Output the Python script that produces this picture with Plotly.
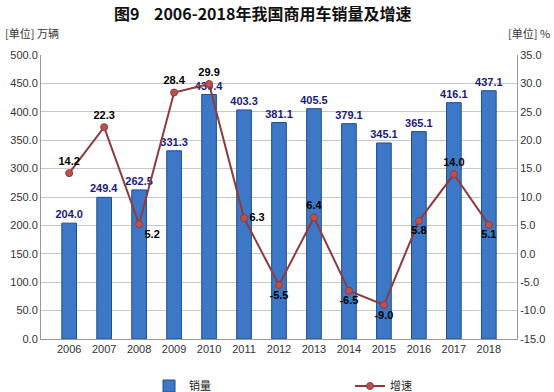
import plotly.graph_objects as go

years = ["2006","2007","2008","2009","2010","2011","2012","2013","2014","2015","2016","2017","2018"]
sales = [204.0, 249.4, 262.5, 331.3, 430.4, 403.3, 381.1, 405.5, 379.1, 345.1, 365.1, 416.1, 437.1]
growth = [14.2, 22.3, 5.2, 28.4, 29.9, 6.3, -5.5, 6.4, -6.5, -9.0, 5.8, 14.0, 5.1]
growth_pos = ["top center","top center","bottom right","top center","top center","middle right",
              "bottom center","top center","bottom center","bottom center","bottom center","top center","bottom center"]
left_ticks = [0, 50, 100, 150, 200, 250, 300, 350, 400, 450, 500]
right_ticks = [-15, -10, -5, 0, 5, 10, 15, 20, 25, 30, 35]

TF = "Liberation Sans, Arial, DejaVu Sans"
PW = 476
PH = 284

fig = go.Figure()
fig.add_trace(go.Bar(
    x=years, y=sales, name="销量", legend="legend",
    marker=dict(color="#3C78C6", line=dict(color="#1F4E8C", width=1)),
    width=0.42,
    text=[f"{v:.1f}" for v in sales], textposition="outside", constraintext="none",
    textfont=dict(color="#1B1B7A", size=11, family=TF, weight="bold"),
    cliponaxis=False,
))
fig.add_trace(go.Scatter(
    x=years, y=growth, name="增速", yaxis="y2", legend="legend2", mode="lines+markers+text",
    line=dict(color="#8E3B3F", width=2),
    marker=dict(color="#C0504D", size=7, line=dict(color="#8E3B3F", width=1)),
    text=[f"{v:.1f}" for v in growth], textposition=growth_pos,
    textfont=dict(color="#000000", size=11, family=TF, weight="bold"),
    cliponaxis=False,
))

leg_common = dict(orientation="h", xanchor="left", y=-47 / PH, yanchor="middle",
                  font=dict(size=11, color="#222222"), bgcolor="rgba(0,0,0,0)")
fig.update_layout(
    width=554, height=392,
    margin=dict(l=41, r=37, t=55, b=53, autoexpand=False),
    paper_bgcolor="white", plot_bgcolor="white",
    font=dict(family="Noto Sans CJK SC, DejaVu Sans", size=11, color="#333333"),
    showlegend=True,
    legend=dict(x=(149 - 41) / PW, **leg_common),
    legend2=dict(x=(350 - 41) / PW, **leg_common),
    xaxis=dict(showgrid=False, showline=True, linecolor="#999999", ticks="",
               tickfont=dict(size=11, color="#333333", family=TF)),
    yaxis=dict(range=[0, 500], tickvals=left_ticks, ticktext=[f"{v:.1f}" for v in left_ticks],
               showgrid=True, gridcolor="#C8C8C8", showline=True, linecolor="#999999",
               zeroline=False, tickfont=dict(size=11, color="#333333", family=TF)),
    yaxis2=dict(range=[-15, 35], tickvals=right_ticks, ticktext=[f"{v:.1f}" for v in right_ticks],
                overlaying="y", side="right", showgrid=False, showline=True, linecolor="#999999",
                zeroline=False, tickfont=dict(size=11, color="#333333", family=TF)),
    bargap=0.5,
)
fig.add_annotation(text="<b>图9    2006-2018年我国商用车销量及增速</b>", xref="paper", yref="paper",
                   x=0.5, y=1.0, xanchor="center", yanchor="middle", yshift=42, xshift=-17,
                   showarrow=False, font=dict(size=16, color="#111111"))
fig.add_annotation(text="[单位] 万辆", xref="paper", yref="paper", x=0, xshift=-38, y=1.0,
                   yshift=22, xanchor="left", yanchor="middle", showarrow=False,
                   font=dict(size=11, color="#333333"))
fig.add_annotation(text="[单位] %", xref="paper", yref="paper", x=1, xshift=35, y=1.0,
                   yshift=22, xanchor="right", yanchor="middle", showarrow=False,
                   font=dict(size=11, color="#333333"))
fig.write_html("out.html", config={"displayModeBar": False},
               post_script="document.body.style.margin='0';")
